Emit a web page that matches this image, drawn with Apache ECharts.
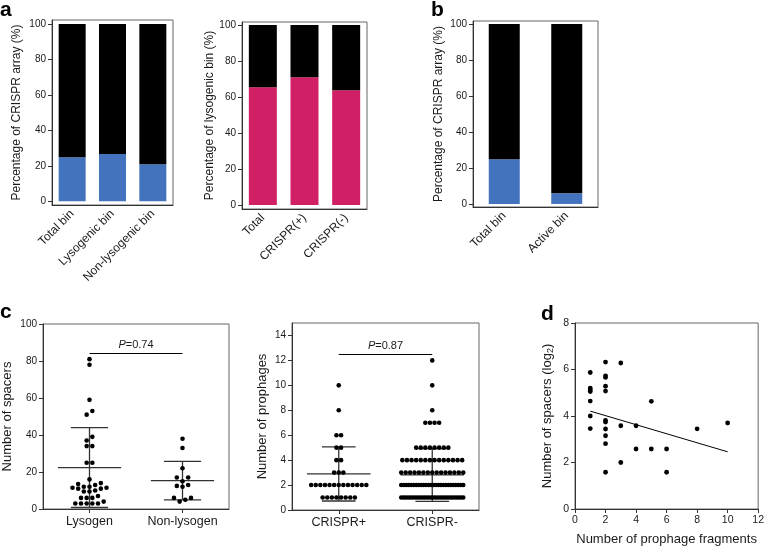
<!DOCTYPE html>
<html>
<head>
<meta charset="utf-8">
<title>CRISPR / prophage</title>
<script src="https://cdn.jsdelivr.net/npm/echarts@6/dist/echarts.min.js"></script>
<style>
  html, body { margin: 0; padding: 0; background: #fff; }
  #main { width: 767px; height: 547px; }
</style>
</head>
<body>
<div id="main"></div>
<script type="text/javascript">
// ---- panel a (left): CRISPR array share per bin type
var binCats = ['Total bin', 'Lysogenic bin', 'Non-lysogenic bin'];
var binCrispr = [24.8, 26.7, 20.9];
// ---- panel a (right): lysogenic share
var lysCats = ['Total', 'CRISPR(+)', 'CRISPR(-)'];
var lysPct = [65.5, 71, 63.8];
// ---- panel b
var activeCats = ['Total bin', 'Active bin'];
var activeCrispr = [24.8, 5.9];

// ---- panel c (left): spacers per genome
var spacerGroups = ['Lysogen', 'Non-lysogen'];
var spacersLysogen = [81, 78, 59, 53, 51, 39, 37, 34, 34, 25, 25, 16, 14, 13.5, 13, 12, 12, 11.5, 11.5, 11, 11, 10, 9.5, 9.5, 7, 6, 6, 6, 4, 3, 3, 3, 3, 3];
var spacersNonLysogen = [38, 33, 22, 17, 17, 15, 13, 12.5, 12, 6, 6, 5, 4];
var spacerMean = [22.4, 15.3];
var spacerSd = [21.6, 10.4];
var spacerP = ['P', '=0.74', 84];

// ---- panel c (right): prophages per genome (value -> number of genomes)
var prophageGroups = ['CRISPR+', 'CRISPR-'];
var prophageValues = [1, 2, 3, 4, 5, 6, 7, 8, 10, 12];
var prophageCountPlus = [8, 13, 3, 2, 2, 2, 0, 1, 1, 0];
var prophageCountMinus = [28, 26, 15, 14, 8, 0, 4, 1, 1, 1];
var prophageMean = [2.89, 2.81];
var prophageSd = [2.17, 2.12];
var prophageP = ['P', '=0.87', 12.5];

// ---- panel d
var fragX = [1, 1, 1, 1, 1, 1, 1, 2, 2, 2, 2, 2, 2, 2, 2, 2, 2, 2, 3, 3, 3, 4, 4, 5, 5, 6, 6, 8, 10];
var fragY = [5.87, 5.2, 5.13, 5.05, 4.64, 4.0, 3.46, 6.32, 5.73, 5.66, 5.28, 5.07, 3.81, 3.74, 3.44, 3.15, 2.81, 1.58, 6.28, 3.58, 2.0, 3.58, 2.58, 4.63, 2.58, 2.58, 1.58, 3.45, 3.7];
var fitLine = [[1, 4.21], [10, 2.46]];

var FONT = 'Liberation Sans';
var TXT = '#1a1a1a';
var BLUE = '#4473BD';
var PINK = '#D11F66';

function expand(values, counts) {
    var out = [];
    for (var i = 0; i < values.length; i++) {
        for (var k = 0; k < counts[i]; k++) out.push(values[i]);
    }
    return out;
}
function rest(arr) {
    return arr.map(function (v) { return +(100 - v).toFixed(2); });
}
function mean(arr) {
    return arr.reduce(function (a, b) { return a + b; }, 0) / arr.length;
}

// simple dot-plot layout: rows of close values spread around the group center
function swarm(values, center, dotPx, stepPx, pxPerY, pxPerX, maxHalfPx) {
    var sorted = values.slice().sort(function (a, b) { return a - b; });
    var rows = [], cur = null;
    sorted.forEach(function (v) {
        if (cur && (v - cur[0]) * pxPerY < dotPx) cur.push(v);
        else { cur = [v]; rows.push(cur); }
    });
    var pts = [];
    rows.forEach(function (row) {
        var n = row.length, step = stepPx;
        if (n > 1 && (n - 1) * step / 2 > maxHalfPx) step = 2 * maxHalfPx / (n - 1);
        var slots = [];
        for (var i = 0; i < n; i++) slots.push((i - (n - 1) / 2) * step);
        slots.sort(function (a, b) { return (Math.abs(a) - Math.abs(b)) || (a - b); });
        row.forEach(function (v, i) { pts.push([center + slots[i] / pxPerX, v]); });
    });
    return pts;
}

function errorBars(halfMean, halfCap) {
    return function (params, api) {
        var x = api.value(0), m = api.value(1), s = api.value(2);
        var st = { stroke: '#333', lineWidth: 1.3 };
        function seg(a, b) {
            var p = api.coord(a), q = api.coord(b);
            return { type: 'line', shape: { x1: p[0], y1: p[1], x2: q[0], y2: q[1] }, style: st };
        }
        return {
            type: 'group',
            children: [
                seg([x - halfMean, m], [x + halfMean, m]),
                seg([x, m - s], [x, m + s]),
                seg([x - halfCap, m + s], [x + halfCap, m + s]),
                seg([x - halfCap, m - s], [x + halfCap, m - s])
            ]
        };
    };
}

var ticks100 = [0, 20, 40, 60, 80, 100];
function pctYAxis(idx, name, gap, mn, mx) {
    return {
        type: 'value', gridIndex: idx, min: mn, max: mx,
        name: name, nameLocation: 'middle', nameGap: gap,
        nameTextStyle: { fontFamily: FONT, fontSize: 12, color: TXT },
        axisLine: { show: true, lineStyle: { color: '#333' } },
        axisTick: { show: true, length: 4, customValues: ticks100, lineStyle: { color: '#333' } },
        axisLabel: { customValues: ticks100, margin: 6, fontFamily: FONT, fontSize: 10, color: TXT },
        splitLine: { show: false }
    };
}
function catXAxis(idx, cats) {
    return {
        type: 'category', gridIndex: idx, data: cats,
        axisLine: { onZero: false, lineStyle: { color: '#333' } },
        axisTick: { alignWithLabel: true, length: 4, lineStyle: { color: '#333' } },
        axisLabel: { rotate: 45, margin: 7, fontFamily: FONT, fontSize: 12, color: TXT, interval: 0 }
    };
}
function groupXAxis(idx, groups) {
    return {
        type: 'value', gridIndex: idx, min: 0.5, max: 2.5,
        axisLine: { onZero: false, lineStyle: { color: '#333' } },
        axisTick: { length: 4, customValues: [1, 2], lineStyle: { color: '#333' } },
        axisLabel: {
            customValues: [1, 2], margin: 6, fontFamily: FONT, fontSize: 12.5, color: TXT,
            formatter: function (v) { return groups[Math.round(v) - 1]; }
        },
        splitLine: { show: false }
    };
}
function countYAxis(idx, name, gap, mx, ticks) {
    return {
        type: 'value', gridIndex: idx, min: 0, max: mx,
        name: name, nameLocation: 'middle', nameGap: gap,
        nameTextStyle: { fontFamily: FONT, fontSize: 13, color: TXT },
        axisLine: { show: true, lineStyle: { color: '#333' } },
        axisTick: { show: true, length: 4, customValues: ticks, lineStyle: { color: '#333' } },
        axisLabel: { customValues: ticks, margin: 6, fontFamily: FONT, fontSize: 10, color: TXT },
        splitLine: { show: false }
    };
}
function barSeries(idx, vals, color, w) {
    return {
        type: 'bar', xAxisIndex: idx, yAxisIndex: idx, stack: 's' + idx,
        data: vals, barWidth: w, itemStyle: { color: color }, silent: true
    };
}
function pLine(p) {
    return {
        symbol: 'none', silent: true,
        lineStyle: { color: '#000', type: 'solid', width: 1.2 },
        label: {
            show: true, position: 'middle', distance: 3,
            formatter: '{i|' + p[0] + '}' + p[1],
            fontFamily: FONT, fontSize: 11, color: TXT,
            rich: { i: { fontStyle: 'italic', fontFamily: FONT, fontSize: 11, color: TXT } }
        },
        data: [[{ coord: [1, p[2]] }, { coord: [2, p[2]] }]]
    };
}

var frame = { show: true, borderColor: '#666', borderWidth: 1, backgroundColor: 'transparent' };
var grids = [
    Object.assign({ left: 52, right: 594, top: 20, bottom: 342 }, frame),   // a left
    Object.assign({ left: 242, right: 400, top: 22, bottom: 338 }, frame),  // a right
    Object.assign({ left: 473, right: 169, top: 21, bottom: 340 }, frame),  // b
    Object.assign({ left: 42, right: 538, top: 324, bottom: 38 }, frame),   // c left
    Object.assign({ left: 292, right: 288, top: 323, bottom: 37 }, frame),  // c right
    Object.assign({ left: 575, right: 6, top: 323, bottom: 38 }, frame)     // d
];

// pixel scales of the dot-plot panels (for the dot layout only)
var cLeftPxY = (547 - 324 - 38) / 100, cLeftPxX = (767 - 42 - 538) / 2;
var cRightPxY = (547 - 323 - 37) / 15, cRightPxX = (767 - 292 - 288) / 2;

var lysPts = swarm(spacersLysogen, 1, 4.6, 5.7, cLeftPxY, cLeftPxX, 40);
var nonPts = swarm(spacersNonLysogen, 2, 4.6, 5.7, cLeftPxY, cLeftPxX, 40);
var plusPts = swarm(expand(prophageValues, prophageCountPlus), 1, 4.6, 4.6, cRightPxY, cRightPxX, 31);
var minusPts = swarm(expand(prophageValues, prophageCountMinus), 2, 4.6, 4.6, cRightPxY, cRightPxX, 31);

var fragPts = fragX.map(function (x, i) { return [x, fragY[i]]; });

var chart = echarts.init(document.getElementById('main'), null, { renderer: 'canvas' });
var option = {
    animation: false,
    backgroundColor: '#fff',
    textStyle: { fontFamily: FONT },
    grid: grids,
    graphic: [
        { type: 'text', left: 0, top: 0, style: { text: 'a', font: 'bold 21px ' + FONT, fill: '#000' } },
        { type: 'text', left: 431, top: 0, style: { text: 'b', font: 'bold 21px ' + FONT, fill: '#000' } },
        { type: 'text', left: 0, top: 302, style: { text: 'c', font: 'bold 21px ' + FONT, fill: '#000' } },
        { type: 'text', left: 541, top: 304, style: { text: 'd', font: 'bold 21px ' + FONT, fill: '#000' } }
    ],
    xAxis: [
        catXAxis(0, binCats),
        catXAxis(1, lysCats),
        catXAxis(2, activeCats),
        groupXAxis(3, spacerGroups),
        groupXAxis(4, prophageGroups),
        {
            type: 'value', gridIndex: 5, min: 0, max: 12, interval: 2,
            name: 'Number of prophage fragments', nameLocation: 'middle', nameGap: 24,
            nameTextStyle: { fontFamily: FONT, fontSize: 13, color: TXT },
            axisLine: { onZero: false, lineStyle: { color: '#333' } },
            axisTick: { length: 4, lineStyle: { color: '#333' } },
            axisLabel: { margin: 6, fontFamily: FONT, fontSize: 10.5, color: TXT },
            splitLine: { show: false }
        }
    ],
    yAxis: [
        pctYAxis(0, 'Percentage of CRISPR array (%)', 29, -2.1, 102.3),
        pctYAxis(1, 'Percentage of lysogenic bin (%)', 26, -2.2, 101.7),
        pctYAxis(2, 'Percentage of CRISPR array (%)', 28, -1.7, 101.7),
        countYAxis(3, 'Number of spacers', 29, 100, [0, 20, 40, 60, 80, 100]),
        countYAxis(4, 'Number of prophages', 23, 15, [0, 2, 4, 6, 8, 10, 12, 14]),
        {
            type: 'value', gridIndex: 5, min: 0, max: 8, interval: 2,
            name: 'Number of spacers (log{sub|2})', nameLocation: 'middle', nameGap: 20,
            nameTextStyle: {
                fontFamily: FONT, fontSize: 13, color: TXT,
                rich: { sub: { fontFamily: FONT, fontSize: 9, color: TXT, verticalAlign: 'bottom', padding: [6, 0, 0, 0] } }
            },
            axisLine: { show: true, onZero: false, lineStyle: { color: '#333' } },
            axisTick: { show: true, length: 4, lineStyle: { color: '#333' } },
            axisLabel: { margin: 6, fontFamily: FONT, fontSize: 10.5, color: TXT },
            splitLine: { show: false }
        }
    ],
    series: [
        barSeries(0, binCrispr, BLUE, 27),
        barSeries(0, rest(binCrispr), '#000', 27),
        barSeries(1, lysPct, PINK, 28),
        barSeries(1, rest(lysPct), '#000', 28),
        barSeries(2, activeCrispr, BLUE, 31),
        barSeries(2, rest(activeCrispr), '#000', 31),
        {
            type: 'custom', xAxisIndex: 3, yAxisIndex: 3, silent: true,
            renderItem: errorBars(0.34, 0.2),
            data: [[1, spacerMean[0], spacerSd[0]], [2, spacerMean[1], spacerSd[1]]],
            z: 1
        },
        {
            type: 'scatter', xAxisIndex: 3, yAxisIndex: 3, silent: true,
            data: lysPts.concat(nonPts), symbolSize: 4.6,
            itemStyle: { color: '#000', opacity: 1 }, z: 3,
            markLine: pLine(spacerP)
        },
        {
            type: 'custom', xAxisIndex: 4, yAxisIndex: 4, silent: true,
            renderItem: errorBars(0.34, 0.18),
            data: [[1, prophageMean[0], prophageSd[0]], [2, prophageMean[1], prophageSd[1]]],
            z: 1
        },
        {
            type: 'scatter', xAxisIndex: 4, yAxisIndex: 4, silent: true,
            data: plusPts.concat(minusPts), symbolSize: 4.6,
            itemStyle: { color: '#000', opacity: 1 }, z: 3,
            markLine: pLine(prophageP)
        },
        {
            type: 'scatter', xAxisIndex: 5, yAxisIndex: 5, silent: true,
            data: fragPts, symbolSize: 4.8,
            itemStyle: { color: '#000', opacity: 1 }
        },
        {
            type: 'line', xAxisIndex: 5, yAxisIndex: 5, silent: true,
            data: fitLine, symbol: 'none',
            lineStyle: { color: '#000', width: 1 }
        }
    ]
};
chart.setOption(option);
</script>
</body>
</html>
